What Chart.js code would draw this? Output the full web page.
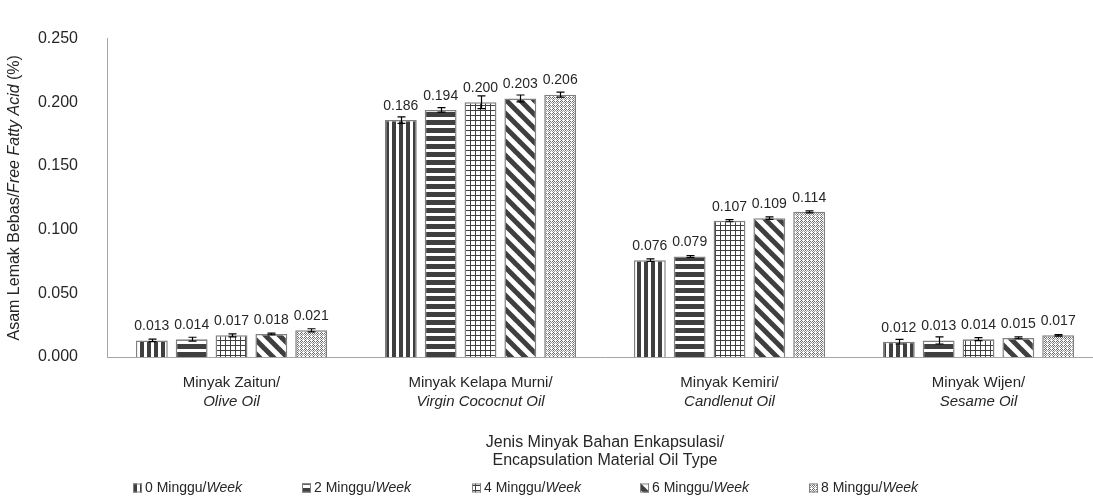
<!DOCTYPE html>
<html>
<head>
<meta charset="utf-8">
<script src="https://cdn.jsdelivr.net/npm/chart.js@4/dist/chart.umd.min.js"></script>
<style>
html,body{margin:0;padding:0;background:#fff;overflow:hidden;}
#wrap{width:1093px;height:497px;position:relative;overflow:hidden;}
</style>
</head>
<body>
<div id="wrap"><canvas id="c" width="1110" height="497"></canvas></div>
<script>
// ---- data ----
const categoryMain = ["Minyak Zaitun/", "Minyak Kelapa Murni/", "Minyak Kemiri/", "Minyak Wijen/"];
const categoryEng = ["Olive Oil", "Virgin Cococnut Oil", "Candlenut Oil", "Sesame Oil"];
const seriesNames = ["0 Minggu/", "2 Minggu/", "4 Minggu/", "6 Minggu/", "8 Minggu/"];
const seriesSuffix = "Week";
const week0 = [0.013, 0.186, 0.076, 0.012];
const week2 = [0.014, 0.194, 0.079, 0.013];
const week4 = [0.017, 0.200, 0.107, 0.014];
const week6 = [0.018, 0.203, 0.109, 0.015];
const week8 = [0.021, 0.206, 0.114, 0.017];
const err0 = [0.0010, 0.0025, 0.0010, 0.0018];
const err2 = [0.0015, 0.0018, 0.0007, 0.0028];
const err4 = [0.0012, 0.0050, 0.0008, 0.0012];
const err6 = [0.0007, 0.0027, 0.0010, 0.0008];
const err8 = [0.0012, 0.0020, 0.0008, 0.0006];
const yTicks = [0, 0.05, 0.10, 0.15, 0.20, 0.25];
const xTitle = ["Jenis Minyak Bahan Enkapsulasi/", "Encapsulation Material Oil Type"];
const yTitleParts = [["Asam Lemak Bebas/", false], ["Free Fatty Acid", true], [" (%)", false]];

const seriesValues = [week0, week2, week4, week6, week8];
const seriesErrors = [err0, err2, err4, err6, err8];

// ---- patterns ----
const DARK = "#3f3f3f";
function makeTile(w, h, draw) {
  const c = document.createElement("canvas");
  c.width = w; c.height = h;
  const g = c.getContext("2d");
  g.fillStyle = "#fff"; g.fillRect(0, 0, w, h);
  g.fillStyle = DARK; g.strokeStyle = DARK;
  draw(g, w, h);
  return c;
}
const tiles = [
  makeTile(7, 7, (g) => { g.fillRect(0, 0, 4, 7); }),
  makeTile(8, 8, (g) => { g.fillRect(0, 0, 8, 5); }),
  makeTile(5, 5, (g) => { g.fillRect(0, 0, 5, 1); g.fillRect(0, 0, 1, 5); }),
  makeTile(14, 14, (g) => {
    g.lineWidth = 5;
    for (let k = -14; k <= 14; k += 14) {
      g.beginPath(); g.moveTo(k - 2, -2); g.lineTo(k + 16, 16); g.stroke();
    }
  }),
  makeTile(4, 4, (g) => {
    g.fillStyle = "#6a6a6a";
    g.fillRect(1, 0, 1, 1); g.fillRect(0, 1, 1, 1); g.fillRect(2, 1, 1, 1); g.fillRect(1, 2, 1, 1);
    g.fillStyle = "#9a9a9a";
    g.fillRect(3, 2, 1, 1); g.fillRect(2, 3, 1, 1); g.fillRect(0, 3, 1, 1);
  })
];
const ctx = document.getElementById("c").getContext("2d");
const patterns = tiles.map(t => ctx.createPattern(t, "repeat"));

const FONT = "'Liberation Sans', Arial, sans-serif";
const TXT = "#262626";

const overlay = {
  id: "overlay",
  afterDatasetsDraw(chart) {
    const g = chart.ctx;
    const y = chart.scales.y, x = chart.scales.x;
    const area = chart.chartArea;
    g.save();
    // error bars and data labels
    chart.data.datasets.forEach((ds, di) => {
      const meta = chart.getDatasetMeta(di);
      meta.data.forEach((bar, i) => {
        const v = seriesValues[di][i], e = seriesErrors[di][i];
        const yTop = y.getPixelForValue(v + e), yBot = y.getPixelForValue(v - e);
        const cx = Math.round(bar.x) + 0.5;
        g.strokeStyle = "#000"; g.lineWidth = 1.2;
        g.beginPath();
        g.moveTo(cx, yTop); g.lineTo(cx, yBot);
        g.moveTo(cx - 4, yTop); g.lineTo(cx + 4, yTop);
        g.moveTo(cx - 4, yBot); g.lineTo(cx + 4, yBot);
        g.stroke();
        g.fillStyle = TXT; g.font = "14px " + FONT;
        g.textAlign = "center"; g.textBaseline = "bottom";
        g.fillText(v.toFixed(3), bar.x, bar.y - 7);
      });
    });
    // category labels
    g.textAlign = "center"; g.textBaseline = "middle"; g.fillStyle = TXT;
    categoryMain.forEach((lab, i) => {
      const px = x.getPixelForValue(i);
      g.font = "15px " + FONT;
      g.fillText(lab, px, area.bottom + 26);
      g.font = "italic 15px " + FONT;
      g.fillText(categoryEng[i], px, area.bottom + 45);
    });
    // x title
    const mid = (area.left + area.right) / 2;
    g.font = "16px " + FONT;
    g.fillText(xTitle[0], mid, area.bottom + 86);
    g.fillText(xTitle[1], mid, area.bottom + 104);
    // y title
    g.save();
    g.translate(15, (area.top + area.bottom) / 2);
    g.rotate(-Math.PI / 2);
    let total = 0;
    yTitleParts.forEach(p => { g.font = (p[1] ? "italic " : "") + "16px " + FONT; total += g.measureText(p[0]).width; });
    let sx = -total / 2;
    g.textAlign = "left";
    yTitleParts.forEach(p => {
      g.font = (p[1] ? "italic " : "") + "16px " + FONT;
      g.fillText(p[0], sx, 0);
      sx += g.measureText(p[0]).width;
    });
    g.restore();
    // legend
    const legX = [133, 302, 472, 640, 809];
    const ly = 488;
    g.textBaseline = "middle"; g.textAlign = "left";
    seriesNames.forEach((name, i) => {
      const lx = legX[i];
      g.fillStyle = patterns[i];
      g.fillRect(lx, ly - 4.5, 9, 9);
      g.strokeStyle = "#7f7f7f"; g.lineWidth = 1;
      g.strokeRect(lx + 0.5, ly - 4, 8, 8);
      g.fillStyle = TXT;
      g.font = "14px " + FONT;
      const tx = lx + 12;
      g.fillText(name, tx, ly);
      const w = g.measureText(name).width;
      g.font = "italic 14px " + FONT;
      g.fillText(seriesSuffix, tx + w, ly);
    });
    g.restore();
  }
};

new Chart(ctx, {
  type: "bar",
  data: {
    labels: categoryMain,
    datasets: seriesValues.map((vals, i) => ({
      label: seriesNames[i] + seriesSuffix,
      data: vals,
      backgroundColor: patterns[i],
      borderColor: "#808080",
      borderWidth: 1.5,
      categoryPercentage: 0.8,
      barPercentage: 0.8
    }))
  },
  options: {
    responsive: false,
    animation: false,
    layout: { padding: { top: 22, right: 7, left: 0, bottom: 0 } },
    plugins: { legend: { display: false }, tooltip: { enabled: false } },
    scales: {
      x: {
        grid: { display: false, drawTicks: false },
        border: { display: true, color: "#a6a6a6", width: 1 },
        ticks: { display: false },
        afterFit(s) { s.height = 140; }
      },
      y: {
        min: 0, max: 0.25,
        afterBuildTicks(s) { s.ticks = yTicks.map(v => ({ value: v })); },
        grid: { display: false, drawTicks: false },
        border: { display: true, color: "#a6a6a6", width: 1 },
        ticks: {
          padding: 29,
          color: TXT,
          font: { family: FONT, size: 16 },
          callback: (v) => Number(v).toFixed(3)
        },
        afterFit(s) { s.width = 107; }
      }
    }
  },
  plugins: [overlay]
});
</script>
</body>
</html>
